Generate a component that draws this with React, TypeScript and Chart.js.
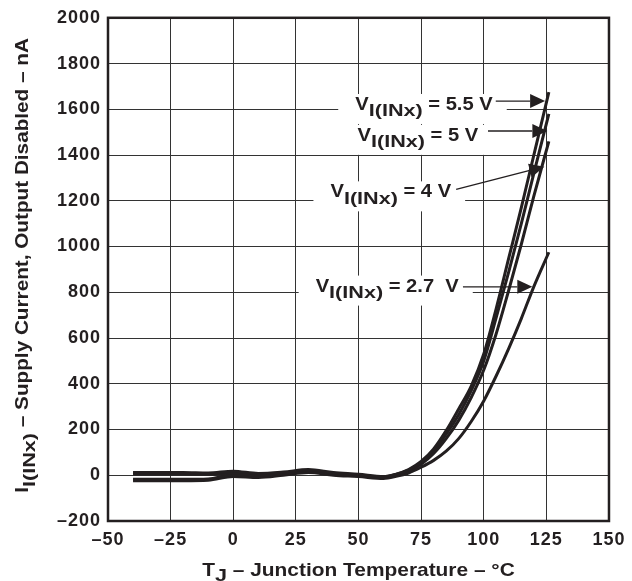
import React, { useEffect, useRef } from "react";
import { Chart, registerables } from "chart.js";

Chart.register(...registerables);

// Junction temperature (°C) at which each supply-current sample is taken
const TEMPS = [-40, -30, -20, -10, 0, 10, 20, 30, 40, 50, 60, 65, 70, 75, 80, 85, 90, 95, 100, 105, 110, 115, 120, 126];

// Supply current with the output disabled (nA), one array per input voltage
const I_5V5 = [12, 12, 12, 10, 18, 8, 14, 25, 12, 4, -6, 5, 25, 60, 115, 195, 290, 390, 530, 730, 950, 1170, 1400, 1675];
const I_5V0 = [5, 5, 5, 4, 10, 0, 8, 20, 8, 0, -8, 3, 22, 55, 105, 180, 265, 370, 500, 690, 890, 1100, 1320, 1580];
const I_4V0 = [-18, -18, -18, -16, 2, -6, 4, 16, 4, -3, -10, 0, 18, 48, 95, 160, 240, 340, 460, 620, 810, 1010, 1220, 1460];
const I_2V7 = [-24, -24, -24, -22, -5, -10, 0, 12, 0, -6, -14, -5, 10, 35, 65, 105, 160, 235, 325, 435, 555, 685, 825, 975];

const SERIES_VOLTS = ["5.5", "5", "4", "2.7"];
const SERIES_VALUES = [I_5V5, I_5V0, I_4V0, I_2V7];

// Axis ticks
const X_TICKS = [-50, -25, 0, 25, 50, 75, 100, 125, 150];
const Y_TICKS = [-200, 0, 200, 400, 600, 800, 1000, 1200, 1400, 1600, 1800, 2000];

// Callouts: label anchor and arrow, all in data units (°C, nA)
const CALLOUT_TEXT = ["5.5 V", "5 V", "4 V", "2.7  V"];
const CALLOUT_TEXT_AT: [number, number][] = [[48.7, 1597], [49.6, 1462], [38.8, 1215], [32.9, 803]];
const CALLOUT_ARROW_FROM: [number, number][] = [[104.8, 1636], [101.7, 1505], [89, 1250], [91.7, 824]];
const CALLOUT_ARROW_TO: [number, number][] = [[124.5, 1636], [125.4, 1505], [124.2, 1349], [119.4, 824]];

const INK = "#231f20";
const FAMILY = "'Liberation Sans', Arial, Helvetica, sans-serif";
const W = 632;
const H = 581;

type Run = { text: string; size: number; sx: number; dy: number };

function runsWidth(ctx: CanvasRenderingContext2D, runs: Run[]) {
  let w = 0;
  for (const r of runs) {
    ctx.font = `bold ${r.size}px ${FAMILY}`;
    w += ctx.measureText(r.text).width * r.sx;
  }
  return w;
}

function drawRuns(ctx: CanvasRenderingContext2D, runs: Run[], x: number, y: number) {
  let cx = x;
  for (const r of runs) {
    ctx.font = `bold ${r.size}px ${FAMILY}`;
    const w = ctx.measureText(r.text).width;
    ctx.save();
    ctx.translate(cx, y + r.dy);
    ctx.scale(r.sx, 1);
    ctx.fillText(r.text, 0, 0);
    ctx.restore();
    cx += w * r.sx;
  }
}

const MAIN = 18;
const SUB = 16;
const SX_MAIN = 1.12;
const SX_SUB = 1.35;

function vinRuns(rest: string): Run[] {
  return [
    { text: "V", size: MAIN, sx: SX_MAIN, dy: 0 },
    { text: "I(INx)", size: SUB, sx: SX_SUB, dy: 6.5 },
    { text: ` = ${rest}`, size: MAIN, sx: SX_MAIN, dy: 0 },
  ];
}

const fmtTick = (v: number) => (v < 0 ? `\u2013${Math.abs(v)}` : `${v}`);

const decorPlugin = {
  id: "decor",
  beforeDraw(chart: any) {
    chart.ctx.letterSpacing = "1px";
  },
  afterDatasetsDraw(chart: any) {
    const ctx: CanvasRenderingContext2D = chart.ctx;
    const xs = chart.scales.x;
    const ys = chart.scales.y;
    ctx.save();
    ctx.letterSpacing = "0px";
    ctx.textBaseline = "alphabetic";
    ctx.textAlign = "left";
    CALLOUT_TEXT.forEach((t, i) => {
      const runs = vinRuns(t);
      const tx = xs.getPixelForValue(CALLOUT_TEXT_AT[i][0]);
      const ty = ys.getPixelForValue(CALLOUT_TEXT_AT[i][1]);
      const w = runsWidth(ctx, runs);
      ctx.fillStyle = "#ffffff";
      ctx.fillRect(tx - 17, ty - 16, w + 31, 30);
      ctx.fillStyle = INK;
      drawRuns(ctx, runs, tx, ty);

      const x0 = xs.getPixelForValue(CALLOUT_ARROW_FROM[i][0]);
      const y0 = ys.getPixelForValue(CALLOUT_ARROW_FROM[i][1]);
      const x1 = xs.getPixelForValue(CALLOUT_ARROW_TO[i][0]);
      const y1 = ys.getPixelForValue(CALLOUT_ARROW_TO[i][1]);
      const ang = Math.atan2(y1 - y0, x1 - x0);
      const len = 15;
      const half = 7;
      const bx = x1 - len * Math.cos(ang);
      const by = y1 - len * Math.sin(ang);
      ctx.strokeStyle = INK;
      ctx.lineWidth = 1.3;
      ctx.beginPath();
      ctx.moveTo(x0, y0);
      ctx.lineTo(bx, by);
      ctx.stroke();
      ctx.beginPath();
      ctx.moveTo(x1, y1);
      ctx.lineTo(bx + half * Math.sin(ang), by - half * Math.cos(ang));
      ctx.lineTo(bx - half * Math.sin(ang), by + half * Math.cos(ang));
      ctx.closePath();
      ctx.fill();
    });
    ctx.restore();
  },
  afterDraw(chart: any) {
    const ctx: CanvasRenderingContext2D = chart.ctx;
    const a = chart.chartArea;
    ctx.save();
    ctx.letterSpacing = "0px";
    // plot frame
    ctx.strokeStyle = INK;
    ctx.lineWidth = 2.5;
    ctx.strokeRect(a.left, a.top, a.right - a.left, a.bottom - a.top);

    ctx.fillStyle = INK;
    ctx.textBaseline = "alphabetic";
    ctx.textAlign = "left";

    // x-axis title
    const xRuns: Run[] = [
      { text: "T", size: 19, sx: 1.1, dy: 0 },
      { text: "J", size: SUB, sx: SX_SUB, dy: 5 },
      { text: " \u2013 Junction Temperature \u2013 \u00b0C", size: 19, sx: 1.1, dy: 0 },
    ];
    const xw = runsWidth(ctx, xRuns);
    drawRuns(ctx, xRuns, (a.left + a.right) / 2 - xw / 2, 576);

    // y-axis title, rotated
    const yRuns: Run[] = [
      { text: "I", size: 18.5, sx: SX_MAIN, dy: 0 },
      { text: "I(INx)", size: SUB, sx: SX_SUB, dy: 6.5 },
      { text: " \u2013 Supply Current, Output Disabled \u2013 nA", size: 18.5, sx: SX_MAIN, dy: 0 },
    ];
    const yw = runsWidth(ctx, yRuns);
    ctx.translate(28, (a.top + a.bottom) / 2 - 4);
    ctx.rotate(-Math.PI / 2);
    drawRuns(ctx, yRuns, -yw / 2, 0);
    ctx.restore();
  },
};

export default function App() {
  const canvasRef = useRef<HTMLCanvasElement | null>(null);

  useEffect(() => {
    const canvas = canvasRef.current;
    if (!canvas) return;
    const tickFont = { family: FAMILY, size: 18, weight: "bold" as const };
    const chart = new Chart(canvas, {
      type: "line",
      data: {
        datasets: SERIES_VALUES.map((vals, k) => ({
          label: `V = ${SERIES_VOLTS[k]} V`,
          data: TEMPS.map((t, i) => ({ x: t, y: vals[i] })),
          borderColor: INK,
          borderWidth: 3,
          pointRadius: 0,
          fill: false,
          cubicInterpolationMode: "monotone" as const,
        })),
      },
      options: {
        animation: false,
        responsive: false,
        maintainAspectRatio: false,
        devicePixelRatio: 1,
        layout: { padding: { top: 13, right: 17, left: 0, bottom: 0 } },
        plugins: {
          legend: { display: false },
          tooltip: { enabled: false },
        },
        scales: {
          x: {
            type: "linear",
            min: X_TICKS[0],
            max: X_TICKS[X_TICKS.length - 1],
            afterBuildTicks: (s: any) => {
              s.ticks = X_TICKS.map((v) => ({ value: v }));
            },
            afterFit: (s: any) => {
              s.height = 60;
            },
            ticks: {
              font: tickFont,
              color: INK,
              padding: 8,
              maxRotation: 0,
              autoSkip: false,
              callback: (v: any) => fmtTick(Number(v)),
            },
            grid: { color: "#333333", lineWidth: 1, drawTicks: false },
            border: { display: false },
          },
          y: {
            type: "linear",
            min: Y_TICKS[0],
            max: Y_TICKS[Y_TICKS.length - 1],
            afterBuildTicks: (s: any) => {
              s.ticks = Y_TICKS.map((v) => ({ value: v }));
            },
            afterFit: (s: any) => {
              s.width = 108;
            },
            ticks: {
              font: tickFont,
              color: INK,
              padding: 7,
              autoSkip: false,
              callback: (v: any) => fmtTick(Number(v)),
            },
            grid: { color: "#333333", lineWidth: 1, drawTicks: false },
            border: { display: false },
          },
        },
      },
      plugins: [decorPlugin],
    });
    return () => chart.destroy();
  }, []);

  return (
    <div style={{ position: "fixed", left: 0, top: 0, width: W, height: H, background: "#fff" }}>
      <canvas ref={canvasRef} width={W} height={H} style={{ width: W, height: H, display: "block" }} />
    </div>
  );
}
